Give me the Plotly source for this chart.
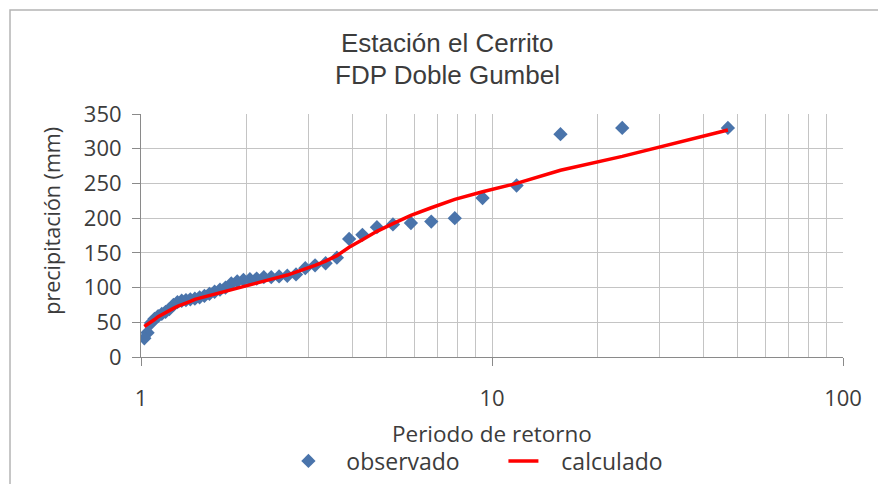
import plotly.graph_objects as go

# Return period (years) for each ranked annual maximum, largest event first
periodo = [47.0, 23.5, 15.67, 11.75, 9.4, 7.833, 6.714, 5.875, 5.222, 4.7,
           4.273, 3.917, 3.615, 3.357, 3.133, 2.938, 2.765, 2.611, 2.474, 2.35,
           2.238, 2.136, 2.043, 1.958, 1.88, 1.808, 1.741, 1.679, 1.621, 1.567,
           1.516, 1.469, 1.424, 1.382, 1.343, 1.306, 1.27, 1.237, 1.205, 1.175,
           1.146, 1.119, 1.093, 1.068, 1.044, 1.022]

# Observed annual maximum precipitation (mm)
observado = [330, 330, 321, 247, 229, 200, 195, 193, 191, 187,
             176, 170, 143, 135, 132, 128, 119, 117, 116, 115,
             115, 113, 112, 111, 109, 106, 100, 97, 94, 91,
             88, 86, 84, 83, 82, 81, 79, 75, 69, 65,
             62, 59, 55, 49, 35, 27]

# Precipitation from the fitted double Gumbel distribution (mm)
calculado = [327, 289, 269, 250, 238, 227, 215, 204, 192, 181,
             169, 158, 146, 138, 132, 127, 122, 118, 115, 112,
             109, 106, 104, 101, 99, 97, 95, 93, 91, 89,
             87, 85, 83, 80, 78, 75, 73, 70, 67, 64,
             61, 58, 54, 51, 48, 44]

x_major = [1, 10, 100]
x_major_text = ["1", "10", "100"]
x_minor = [2, 3, 4, 5, 6, 7, 8, 9, 20, 30, 40, 50, 60, 70, 80, 90]

TXT = "#3c3c3c"
GRID = "#c4c4c4"
AXIS = "#8a8a8a"
FONT = "Open Sans"
PAD = "\u00a0\u00a0\u00a0"  # extra room between legend symbol and label

fig = go.Figure()
fig.add_trace(go.Scatter(
    x=periodo, y=observado, mode="markers", name=PAD + "observado",
    marker=dict(symbol="diamond", size=11, color="#4A74AB"),
))
fig.add_trace(go.Scatter(
    x=periodo, y=calculado, mode="lines", name=PAD + "calculado",
    line=dict(color="#FF0000", width=3.5),
))

fig.update_layout(
    width=878, height=484,
    margin=dict(l=141, r=35, t=114, b=127, autoexpand=False),
    paper_bgcolor="white", plot_bgcolor="white",
    font=dict(family=FONT, color=TXT),
    showlegend=True,
    legend=dict(
        orientation="h", x=0.21, xanchor="left", y=-0.428, yanchor="middle",
        font=dict(size=23, family=FONT, color=TXT),
        entrywidth=170, bgcolor="rgba(0,0,0,0)",
    ),
    xaxis=dict(
        type="log", range=[0, 2],
        tickmode="array", tickvals=x_major, ticktext=x_major_text,
        tickfont=dict(size=22, family=FONT, color=TXT),
        ticks="outside", ticklen=8, tickcolor=AXIS,
        ticklabelstandoff=14,
        showgrid=True, gridcolor=GRID, gridwidth=1,
        showline=True, linecolor=AXIS, linewidth=1,
        zeroline=False,
        minor=dict(tickmode="array", tickvals=x_minor, showgrid=True,
                   gridcolor=GRID, gridwidth=1, ticks=""),
    ),
    yaxis=dict(
        range=[0, 350], tick0=0, dtick=50,
        tickfont=dict(size=22, family=FONT, color=TXT),
        ticks="outside", ticklen=8, tickcolor=AXIS,
        ticklabelstandoff=6,
        showgrid=True, gridcolor=GRID, gridwidth=1,
        showline=True, linecolor=AXIS, linewidth=1,
        zeroline=False,
    ),
    shapes=[dict(
        type="rect", xref="paper", yref="paper",
        x0=-0.1866, x1=1.07, y0=-0.57, y1=1.4275,
        line=dict(color="#b4b4b4", width=1.5), fillcolor="rgba(0,0,0,0)",
        layer="below",
    )],
    annotations=[
        dict(text="Estación el Cerrito", xref="paper", yref="paper",
             x=0.436, y=1.292, xanchor="center", yanchor="middle",
             showarrow=False, font=dict(family="Liberation Sans", size=26, color=TXT)),
        dict(text="FDP Doble Gumbel", xref="paper", yref="paper",
             x=0.436, y=1.160, xanchor="center", yanchor="middle",
             showarrow=False, font=dict(family="Liberation Sans", size=26, color=TXT)),
        dict(text="precipitación (mm)", xref="paper", yref="paper",
             x=-0.127, y=0.56, xanchor="center", yanchor="middle", textangle=-90,
             showarrow=False, font=dict(family=FONT, size=21.5, color=TXT)),
        dict(text="Periodo de retorno", xref="paper", yref="paper",
             x=0.500, y=-0.316, xanchor="center", yanchor="middle",
             showarrow=False, font=dict(family=FONT, size=22.5, color=TXT)),
    ],
)

fig.write_html("out.html")
